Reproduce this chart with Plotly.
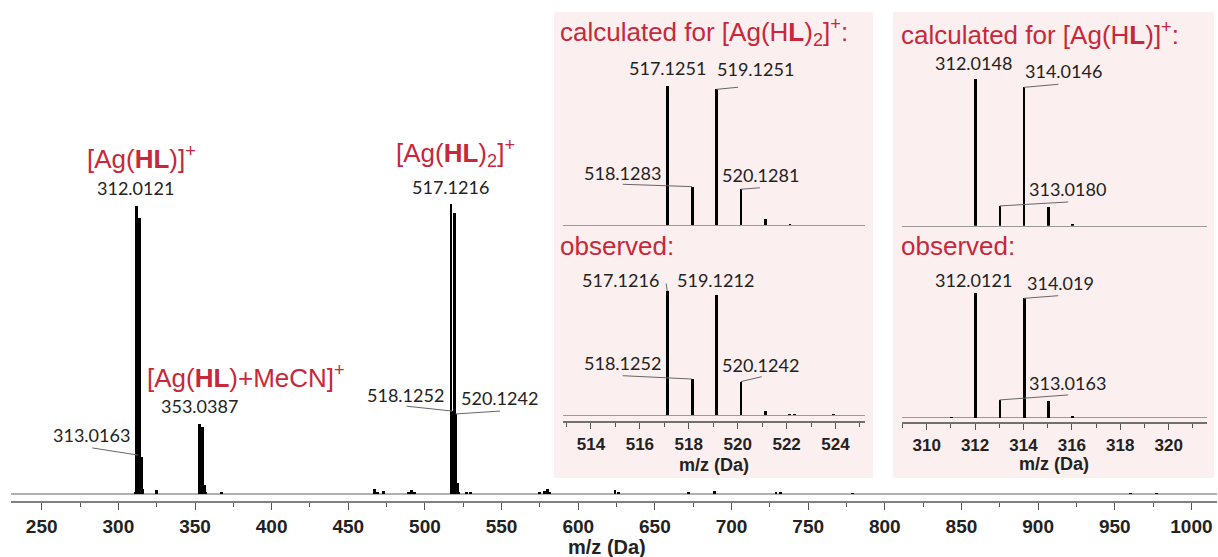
import plotly.graph_objects as go

W, H = 1218, 557

# ---------------- data ----------------
# main spectrum (relative intensity, 312 = 100)
main_mz = [311, 312, 313, 314, 315, 316, 325, 353, 354, 355, 356, 357, 367,
           467, 469, 473, 489, 491, 493, 517, 518, 519, 520, 521, 522, 527, 530,
           575, 578, 580, 581, 624, 626, 672, 689, 729, 732, 779, 960, 977]
main_int = [0.6, 100, 13.5, 95.8, 13.0, 1.6, 1.5, 24.3, 3.1, 23.4, 3.0, 0.6, 0.5,
            1.8, 0.7, 1.1, 0.6, 1.4, 0.6, 100.7, 28.8, 97.6, 27.8, 3.8, 0.6, 0.5, 0.6,
            0.8, 1.2, 1.8, 0.7, 1.3, 0.4, 0.4, 0.9, 0.4, 0.4, 0.3, 0.3, 0.3]

# inset 1: [Ag(HL)2]+
calc2_mz = [517.1251, 518.1283, 519.1251, 520.1281, 521.13, 522.13]
calc2_int = [100, 27.6, 97.6, 25.7, 4.3, 0.5]
obs2_mz = [517.1216, 518.1252, 519.1212, 520.1242, 521.12, 522.1, 522.3, 523.9]
obs2_int = [100, 29.0, 96.8, 26.9, 3.2, 0.4, 0.3, 0.6]

# inset 2: [Ag(HL)]+
calc1_mz = [312.0148, 313.0180, 314.0146, 315.018, 316.02]
calc1_int = [100, 13.5, 94.5, 12.6, 1.2]
obs1_mz = [311.0, 312.0121, 313.0163, 314.019, 315.02, 316.02]
obs1_int = [0.4, 100, 14.2, 95.5, 13.6, 1.0]

# peak labels
main_labels = ["312.0121", "313.0163", "353.0387", "517.1216", "518.1252", "520.1242"]
calc2_labels = ["517.1251", "518.1283", "519.1251", "520.1281"]
obs2_labels = ["517.1216", "518.1252", "519.1212", "520.1242"]
calc1_labels = ["312.0148", "314.0146", "313.0180"]
obs1_labels = ["312.0121", "314.019", "313.0163"]

RED = "#c8283a"
INK = "#222222"
NUMFONT = dict(family="Lato", size=18, color=INK)
REDFONT = dict(family="Liberation Sans, Arial", size=26, color=RED)


def P(x, y):
    return x / W, 1 - y / H


def fx(x0, x1):
    return [x0 / W, x1 / W]


def fy(top, bottom):
    return [1 - bottom / H, 1 - top / H]


fig = go.Figure()

fig.add_trace(go.Bar(x=main_mz, y=main_int, width=1.9, marker=dict(color="black", line=dict(width=0)),
                     xaxis="x", yaxis="y", showlegend=False))
for mz, it, ax in [(calc2_mz, calc2_int, "2"), (obs2_mz, obs2_int, "3"),
                   (calc1_mz, calc1_int, "4"), (obs1_mz, obs1_int, "5")]:
    fig.add_trace(go.Bar(x=mz, y=it, width=0.11, marker=dict(color="black", line=dict(width=0)),
                         xaxis="x" + ax, yaxis="y" + ax, showlegend=False))

shapes = []
# pink inset panels
for x0, x1 in [(554, 873), (893, 1214)]:
    shapes.append(dict(type="rect", xref="paper", yref="paper", x0=x0 / W, x1=x1 / W,
                       y0=1 - 478 / H, y1=1 - 12 / H, fillcolor="#fcefef",
                       line=dict(width=0), layer="below"))


def leader(ax, mz, h, dx, dy):
    shapes.append(dict(type="line", xref="x" + ax if ax else "x", yref="y" + ax if ax else "y",
                       x0=mz, y0=h, x1=mz + dx, y1=h + dy, line=dict(color="#666", width=1)))


# leader lines (offsets are styling)
leader("", main_mz[2], main_int[2], -30, 2.5)
leader("", main_mz[20], main_int[20], -30, 1.7)
leader("", main_mz[22], main_int[22], 29, 1.0)
leader("2", calc2_mz[1], calc2_int[1], -2.83, 1.7)
leader("2", calc2_mz[2], calc2_int[2], 0.89, 1.5)
leader("2", calc2_mz[3], calc2_int[3], 0.78, 1.1)
leader("3", obs2_mz[0], obs2_int[0], -0.05, 6)
leader("3", obs2_mz[1], obs2_int[1], -2.83, 2.7)
leader("3", obs2_mz[3], obs2_int[3], 0.86, 4)
leader("4", calc1_mz[2], calc1_int[2], 1.43, 2.1)
leader("4", calc1_mz[1], calc1_int[1], 2.83, 2.7)
leader("5", obs1_mz[3], obs1_int[3], 1.42, 2.1)
leader("5", obs1_mz[2], obs1_int[2], 2.83, 4)

ann = []


def txt(x, y, t, font, xa="center"):
    px, py = P(x, y)
    ann.append(dict(x=px, y=py, xref="paper", yref="paper", text=t, showarrow=False,
                    font=font, xanchor=xa, yanchor="middle"))


# main labels
main_pos = [(135, 188), (91, 435), (199, 406), (450, 187), (405, 395), (499, 398)]
for t, (x, y) in zip(main_labels, main_pos):
    txt(x, y, t, NUMFONT)
txt(141, 157, "[Ag(<b>HL</b>)]<sup>+</sup>", REDFONT)
txt(455, 153, "[Ag(<b>HL</b>)<sub>2</sub>]<sup>+</sup>", REDFONT)
txt(246, 376, "[Ag(<b>HL</b>)+MeCN]<sup>+</sup>", REDFONT)

# inset labels
for labs, pos in [(calc2_labels, [(667, 68), (622, 173), (755, 69), (760, 175)]),
                  (obs2_labels, [(620, 280), (622, 363), (715, 280), (760, 365)]),
                  (calc1_labels, [(973, 63), (1063, 71), (1067, 189)]),
                  (obs1_labels, [(973, 280), (1060, 283), (1067, 383)])]:
    for t, (x, y) in zip(labs, pos):
        txt(x, y, t, NUMFONT)

txt(558, 32, "calculated for [Ag(H<b>L</b>)<sub>2</sub>]<sup>+</sup>:", REDFONT, "left")
txt(899, 33, "calculated for [Ag(H<b>L</b>)]<sup>+</sup>:", REDFONT, "left")
txt(558, 246, "observed:", REDFONT, "left")
txt(899, 246, "observed:", REDFONT, "left")

AXFONT = dict(family="Liberation Sans, Arial", size=17, color=INK, weight="bold")
txt(607, 547, "<b>m/z (Da)</b>", dict(family="Liberation Sans, Arial", size=20, color=INK))
txt(714, 465, "<b>m/z (Da)</b>", dict(family="Liberation Sans, Arial", size=18, color=INK))
txt(1054, 464, "<b>m/z (Da)</b>", dict(family="Liberation Sans, Arial", size=18, color=INK))

hidden_y = dict(showticklabels=False, showgrid=False, showline=False, ticks="", zeroline=False)

layout = dict(
    width=W, height=H, margin=dict(l=0, r=0, t=0, b=0),
    paper_bgcolor="white", plot_bgcolor="rgba(0,0,0,0)",
    barmode="overlay", bargap=0, showlegend=False,
    shapes=shapes, annotations=ann,
    xaxis=dict(domain=fx(11, 1217), range=[229.97, 1016.7], showgrid=False, zeroline=False,
               showline=True, linecolor="#808080", linewidth=2, ticks="outside", ticklen=7,
               tickcolor="#555", tickwidth=1, tick0=250, dtick=50,
               minor=dict(dtick=25, ticks="outside", ticklen=4, tickcolor="#555"),
               tickfont=dict(family="Liberation Sans, Arial", size=19, color=INK, weight="bold"),
               ticklabelstandoff=0, anchor="y"),
    yaxis=dict(domain=fy(12, 501), range=[-2.43, 167.4], showticklabels=False, showgrid=False,
               showline=False, ticks="", zeroline=True, zerolinecolor="#b0b0b0", zerolinewidth=2,
               anchor="x"),
)

# inset 1 (x2 calc, x3 obs), inset 2 (x4 calc, x5 obs)
for (calc, obs, xr, xd, cb, cs, ob, os_, ax_y) in [
    ("2", "3", [512.843, 525.206], fx(562.7, 865), 225, 1.39, 415, 1.24, 421),
    ("4", "5", [308.967, 321.57], fx(901.7, 1206.7), 225.7, 1.464, 417.7, 1.25, 422),
]:
    layout["xaxis" + calc] = dict(domain=xd, range=xr, showgrid=False, zeroline=False,
                                  showline=True, linecolor="#9a9a9a", linewidth=1,
                                  showticklabels=False, ticks="", anchor="y" + calc)
    layout["yaxis" + calc] = dict(domain=fy(40, cb), range=[0, (cb - 40) / cs], anchor="x" + calc,
                                  **hidden_y)
    layout["xaxis" + obs] = dict(domain=xd, range=xr, showgrid=False, zeroline=False,
                                 showline=True, linecolor="#707070", linewidth=1.5,
                                 ticks="outside", ticklen=6, tickcolor="#555", tick0=0, dtick=2,
                                 minor=dict(dtick=1, ticks="outside", ticklen=4, tickcolor="#555"),
                                 tickfont=AXFONT, ticklabelstandoff=1, anchor="y" + obs)
    yo = dict(hidden_y)
    yo.update(zeroline=True, zerolinecolor="#9a9a9a", zerolinewidth=1)
    layout["yaxis" + obs] = dict(domain=fy(262, ax_y), range=[-(ax_y - ob) / os_, (ob - 262) / os_],
                                 anchor="x" + obs, **yo)

fig.update_layout(**layout)
fig.write_html("out.html")
